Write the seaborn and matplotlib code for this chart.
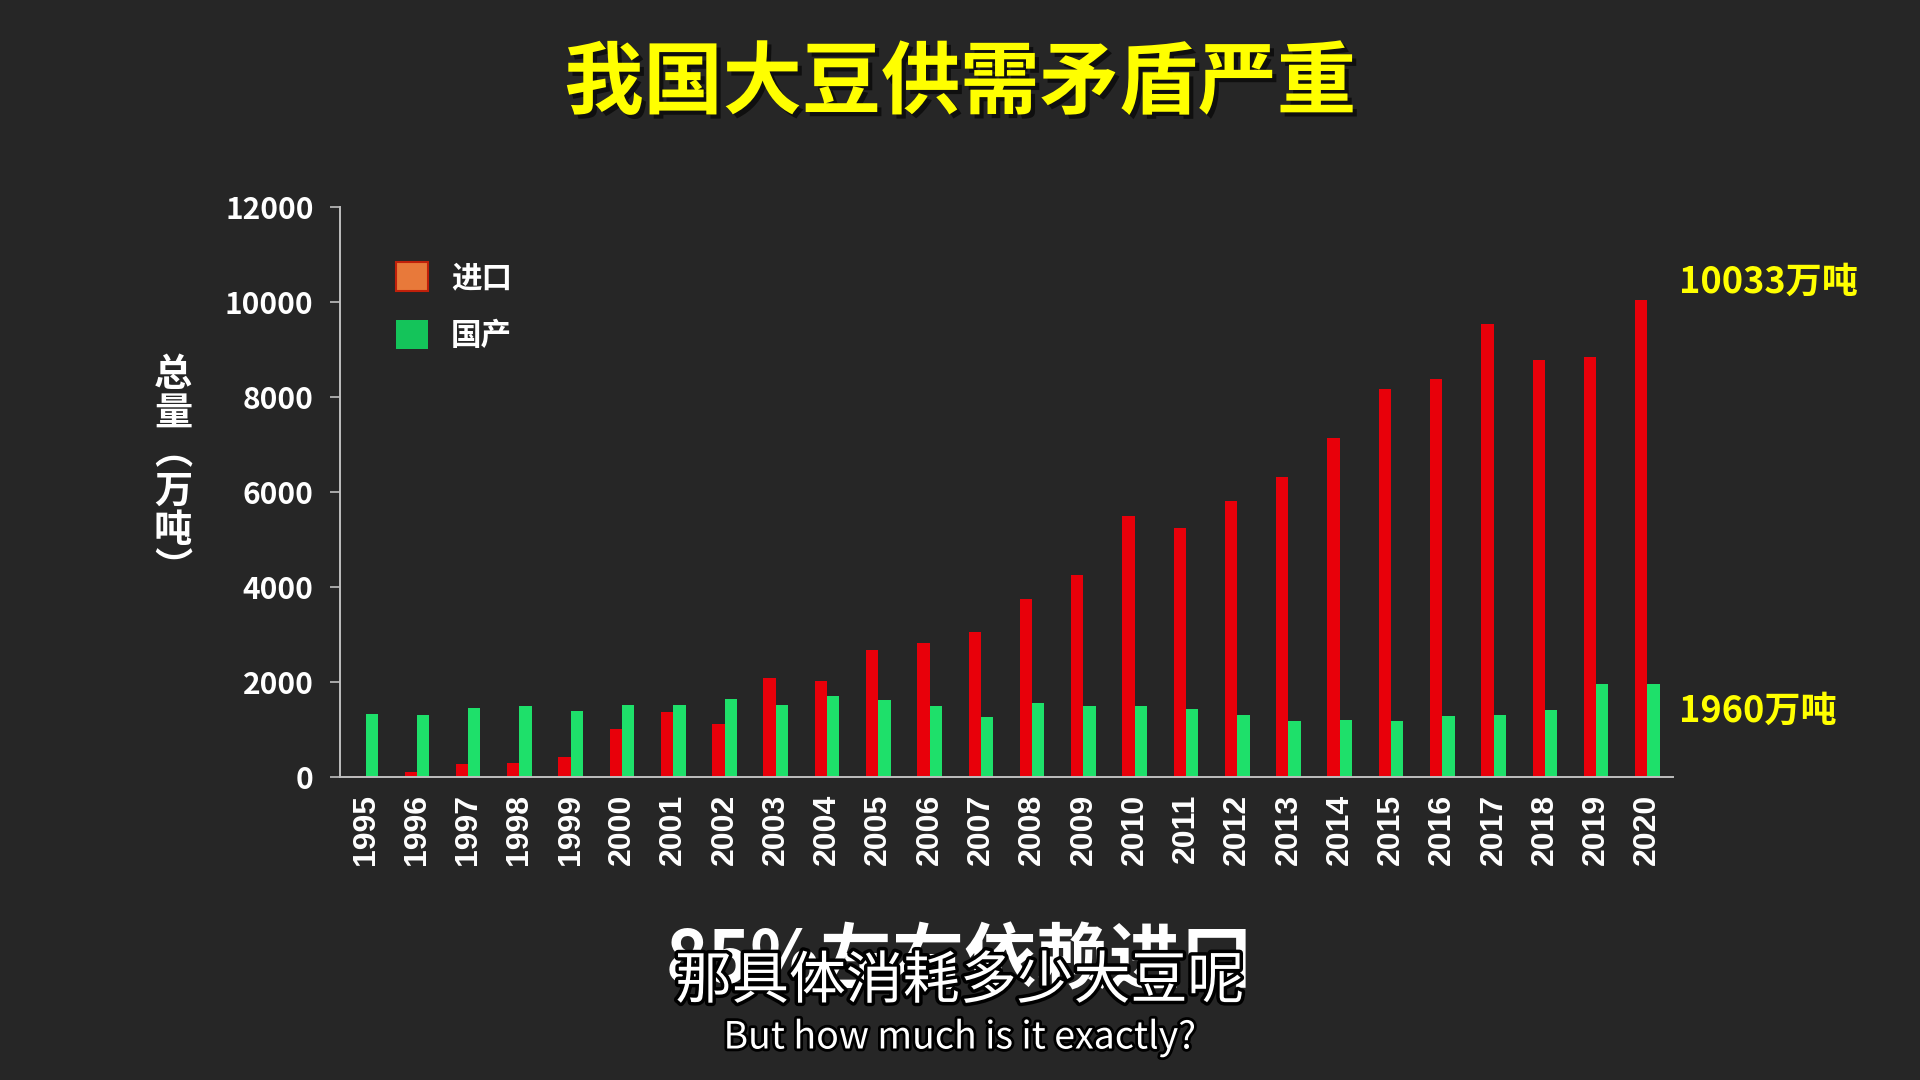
import matplotlib
matplotlib.use("Agg")
import matplotlib.pyplot as plt
import matplotlib.patheffects as pe
from matplotlib.patches import Patch
import seaborn as sns
import pandas as pd

# ---------------- data ----------------
years = [str(y) for y in range(1995, 2021)]
imports = [29, 111, 267, 302, 421, 1017, 1375, 1116, 2077, 2014, 2673, 2827, 3059,
           3744, 4255, 5486, 5241, 5808, 6323, 7144, 8159, 8386, 9546, 8784, 8851, 10033]
domestic = [1326, 1298, 1460, 1488, 1389, 1516, 1523, 1649, 1523, 1705, 1614, 1488, 1270,
            1551, 1488, 1495, 1436, 1309, 1181, 1206, 1181, 1274, 1309, 1402, 1968, 1960]
series_names = ["进口", "国产"]
y_ticks = [0, 2000, 4000, 6000, 8000, 10000, 12000]
title = "我国大豆供需矛盾严重"
y_label = "总量︵万吨︶"
ann_top = "10033万吨"
ann_bottom = "1960万吨"
caption_big = "85%左右依赖进口"
subtitle_cn = "那具体消耗多少大豆呢"
subtitle_en = "But how much is it exactly?"

df = pd.DataFrame({
    "year": years * 2,
    "value": imports + domestic,
    "type": [series_names[0]] * len(years) + [series_names[1]] * len(years),
})

BG = "#262626"
RED = "#E8000A"
GREEN = "#1EE06A"
YELLOW = "#FFFF00"
AXIS = "#BFBFBF"
CJK = ["Noto Sans CJK SC", "DejaVu Sans"]

sns.set_theme(style="dark")
plt.rcParams["font.family"] = CJK

fig = plt.figure(figsize=(19.2, 10.8), dpi=100, facecolor=BG)
ax = fig.add_axes([340 / 1920, 303 / 1080, 1333 / 1920, 570 / 1080])
ax.set_facecolor(BG)

sns.barplot(data=df, x="year", y="value", hue="type", hue_order=series_names,
            palette={series_names[0]: RED, series_names[1]: GREEN},
            width=0.48, dodge=True, saturation=1, legend=False, ax=ax,
            edgecolor="none", linewidth=0)

ax.set_xlim(-0.5, len(years) - 0.5)
ax.set_ylim(0, 12000)
ax.set_yticks(y_ticks)
ax.set_yticklabels([str(t) for t in y_ticks], fontsize=21.5, fontweight="bold",
                   color="white", family=CJK)
ax.set_xticks(range(len(years)))
ax.set_xticklabels(years, rotation=90, fontsize=23, fontweight="bold",
                   color="white", family=["Liberation Sans", "DejaVu Sans"])
ax.tick_params(axis="y", length=7, width=1.2, color=AXIS, pad=12, left=True)
ax.tick_params(axis="x", length=0, pad=12)
ax.set_xlabel("")
ax.set_ylabel("")
ax.grid(False)
for s in ["top", "right"]:
    ax.spines[s].set_visible(False)
for s in ["left", "bottom"]:
    ax.spines[s].set_visible(True)
    ax.spines[s].set_color(AXIS)
    ax.spines[s].set_linewidth(1.4)

# legend
handles = [Patch(facecolor="#E8793A", edgecolor="#C0200A", linewidth=1.5),
           Patch(facecolor="#14C45A", edgecolor="none")]
leg = ax.legend(handles, series_names, loc="upper left",
                bbox_to_anchor=(396 / 1920, 1 - 262 / 1080), bbox_transform=fig.transFigure,
                frameon=False, handlelength=1.05, handleheight=1.05, handletextpad=0.75,
                labelspacing=0.85, borderpad=0, borderaxespad=0,
                prop={"family": CJK, "weight": "bold", "size": 22})
for t in leg.get_texts():
    t.set_color("white")

# annotations at right
last = len(years) - 1
ax.text(last + 0.62, imports[-1] + 390, ann_top, color=YELLOW, fontsize=26,
        fontweight="bold", va="center", ha="left", clip_on=False, family=CJK)
ax.text(last + 0.62, domestic[-1] - 570, ann_bottom, color=YELLOW, fontsize=26,
        fontweight="bold", va="center", ha="left", clip_on=False, family=CJK)

# y label (vertical stacked)
fig.text(173 / 1920, 1 - 472 / 1080, "\n".join(y_label), color="white", fontsize=27.5,
         fontweight="bold", ha="center", va="center", linespacing=1.0, family=CJK)

# title
fig.text(0.5, 1 - 84 / 1080, title, color=YELLOW, fontsize=57, fontweight="heavy",
         ha="center", va="center", family=CJK,
         path_effects=[pe.SimplePatchShadow(offset=(3, -3), shadow_rgbFace="black", alpha=0.6),
                       pe.Normal()])

# caption and subtitles
fig.text(0.5, 1 - 962 / 1080, caption_big, color="white", fontsize=52, fontweight="bold",
         ha="center", va="center", family=CJK)
fig.text(0.5, 1 - 982 / 1080, subtitle_cn, color="white", fontsize=41,
         ha="center", va="center", family=CJK,
         path_effects=[pe.Stroke(linewidth=5, foreground="black"), pe.Normal()])
fig.text(0.5, 1 - 1038 / 1080, subtitle_en, color="white", fontsize=27,
         ha="center", va="center", family=CJK,
         path_effects=[pe.Stroke(linewidth=4, foreground="black"), pe.Normal()])

fig.savefig("out.png", dpi=100, facecolor=BG)
